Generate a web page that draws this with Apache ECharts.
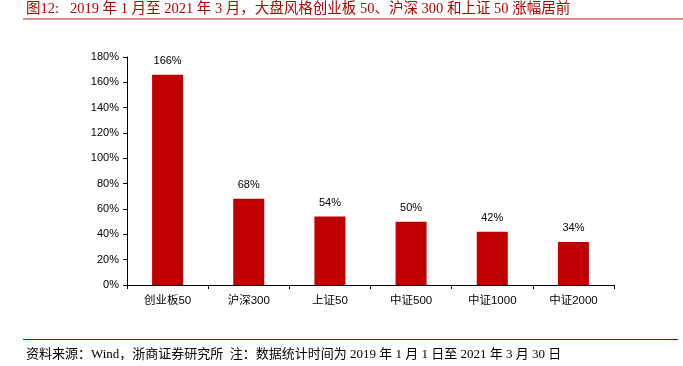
<!DOCTYPE html>
<html>
<head>
<meta charset="utf-8">
<script src="https://cdn.jsdelivr.net/npm/echarts@6/dist/echarts.min.js"></script>
<style>
  html, body { margin: 0; padding: 0; background: #fff; }
  #chart { width: 683px; height: 366px; }
</style>
</head>
<body>
<div id="chart"></div>
<script>
const categories = ['创业板50', '沪深300', '上证50', '中证500', '中证1000', '中证2000']
const gains = [166, 68, 54, 50, 42, 34]
const yTicks = [0, 20, 40, 60, 80, 100, 120, 140, 160, 180]

const serif = '"Liberation Serif", "Noto Sans CJK SC", serif'
const sans = '"Liberation Sans", "Noto Sans CJK SC", sans-serif'

let myChart = echarts.init(document.getElementById('chart'))
myChart.setOption({
  animation: false,
  title: [
    {
      text: '图12:   2019 年 1 月至 2021 年 3 月，大盘风格创业板 50、沪深 300 和上证 50 涨幅居前',
      left: 21,
      top: -3,
      textStyle: { color: '#b30000', fontWeight: 'normal', fontSize: 14.5, fontFamily: serif }
    },
    {
      text: '资料来源：Wind，浙商证券研究所  注：数据统计时间为 2019 年 1 月 1 日至 2021 年 3 月 30 日',
      left: 21,
      top: 343,
      textStyle: { color: '#000', fontWeight: 'normal', fontSize: 13, fontFamily: serif }
    }
  ],
  graphic: [
    { type: 'rect', shape: { x: 23, y: 18, width: 660, height: 2 }, style: { fill: '#d98a8a' } },
    { type: 'rect', shape: { x: 23, y: 339, width: 655, height: 1 }, style: { fill: '#b30000' } }
  ],
  grid: { left: 127, right: 69, top: 57, bottom: 81 },
  xAxis: {
    type: 'category',
    data: categories,
    axisLine: { lineStyle: { color: '#000', width: 1 } },
    axisTick: { show: true, inside: false, length: 4, lineStyle: { color: '#000' } },
    axisLabel: { color: '#000', fontSize: 11.5, margin: 10, fontFamily: sans }
  },
  yAxis: {
    type: 'value',
    min: yTicks[0],
    max: yTicks[yTicks.length - 1],
    interval: 20,
    axisLine: { show: true, lineStyle: { color: '#000', width: 1 } },
    axisTick: { show: true, length: 4, lineStyle: { color: '#000' } },
    splitLine: { show: false },
    axisLabel: { color: '#000', fontSize: 11, margin: 8, fontFamily: sans, formatter: '{value}%' }
  },
  series: [
    {
      type: 'bar',
      data: gains,
      barWidth: 31,
      itemStyle: { color: '#c00000' },
      label: {
        show: true,
        position: 'top',
        distance: 8,
        color: '#000',
        fontSize: 11,
        fontFamily: sans,
        formatter: '{c}%'
      }
    }
  ]
})
</script>
</body>
</html>
